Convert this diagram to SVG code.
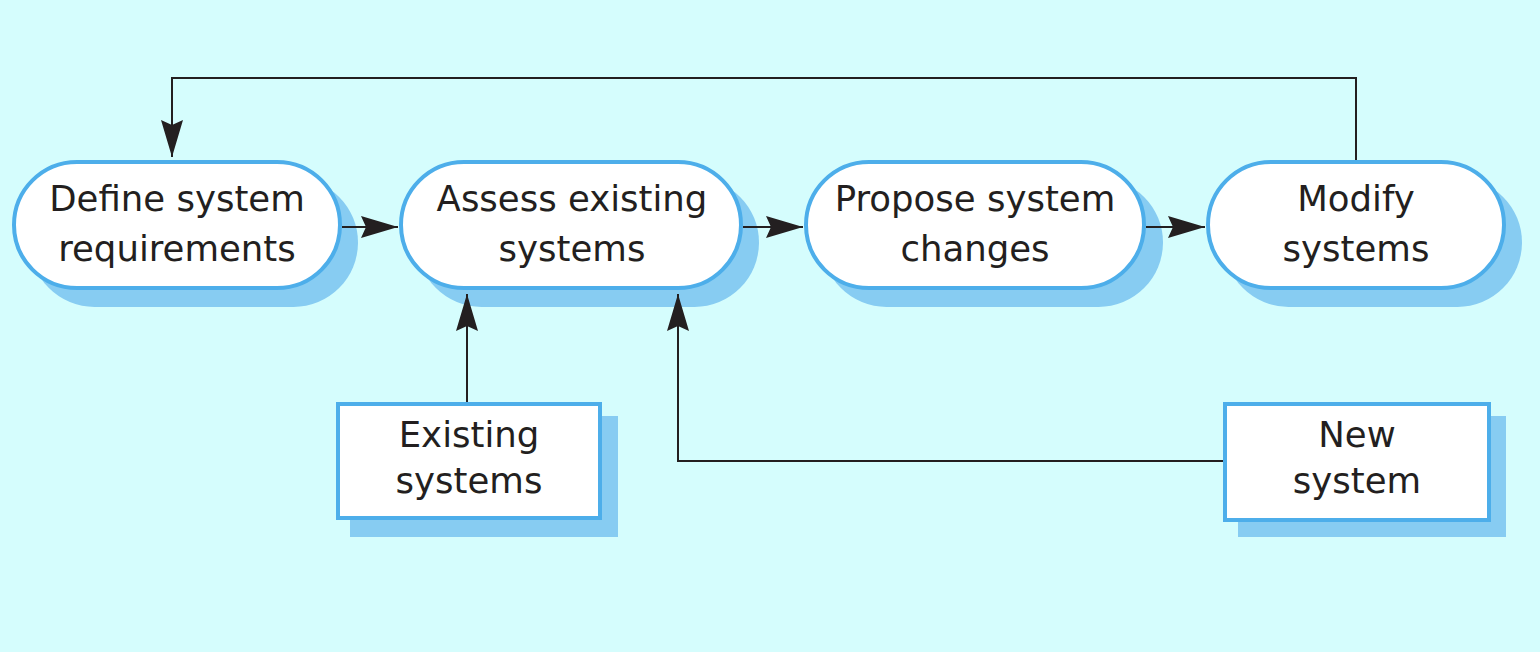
<svg xmlns="http://www.w3.org/2000/svg" width="1540" height="652" viewBox="0 0 1540 652">
<defs>
<style>
.bg{fill:#d5fdfd}
.sh{fill:#87ccf2}
.nd{fill:#ffffff;stroke:#4daeea;stroke-width:4}
.tx{font-family:"DejaVu Sans","Open Sans",sans-serif;font-size:35.5px;fill:#231f20;text-anchor:middle}
.cn{fill:none;stroke:#231f20;stroke-width:2}
</style>
<marker id="ah" markerUnits="userSpaceOnUse" markerWidth="40" markerHeight="24" refX="37" refY="11" orient="auto">
<path d="M0,0 L37,11 L0,22 L5,11 z" fill="#231f20"/>
</marker>
</defs>
<rect class="bg" x="0" y="0" width="1540" height="652"/>
<g id="define">
<rect class="sh" x="30" y="178" width="328" height="129" rx="64.5"/>
<rect class="nd" x="14" y="162" width="326" height="126" rx="63"/>
<text class="tx" x="177" y="211">Define system</text>
<text class="tx" x="177" y="261">requirements</text>
</g>
<g id="assess">
<rect class="sh" x="417" y="178" width="342" height="129" rx="64.5"/>
<rect class="nd" x="401" y="162" width="340" height="126" rx="63"/>
<text class="tx" x="572" y="211">Assess existing</text>
<text class="tx" x="572" y="261">systems</text>
</g>
<g id="propose">
<rect class="sh" x="822" y="178" width="341" height="129" rx="64.5"/>
<rect class="nd" x="806" y="162" width="338" height="126" rx="63"/>
<text class="tx" x="975" y="211">Propose system</text>
<text class="tx" x="975" y="261">changes</text>
</g>
<g id="modify">
<rect class="sh" x="1224" y="178" width="298" height="129" rx="64.5"/>
<rect class="nd" x="1208" y="162" width="296" height="126" rx="63"/>
<text class="tx" x="1356" y="211">Modify</text>
<text class="tx" x="1356" y="261">systems</text>
</g>
<g id="existing">
<rect class="sh" x="350" y="416" width="268" height="121"/>
<rect class="nd" x="338" y="404" width="262" height="114"/>
<text class="tx" x="469" y="447">Existing</text>
<text class="tx" x="469" y="493">systems</text>
</g>
<g id="newsystem">
<rect class="sh" x="1238" y="416" width="268" height="121"/>
<rect class="nd" x="1225" y="404" width="264" height="116"/>
<text class="tx" x="1357" y="447">New</text>
<text class="tx" x="1357" y="493">system</text>
</g>
<g id="connectors">
<path class="cn" d="M1356,160 V78 H172 V157" marker-end="url(#ah)"/>
<path class="cn" d="M342,227 H398" marker-end="url(#ah)"/>
<path class="cn" d="M743,227 H803" marker-end="url(#ah)"/>
<path class="cn" d="M1146,227 H1205" marker-end="url(#ah)"/>
<path class="cn" d="M467,402 V294" marker-end="url(#ah)"/>
<path class="cn" d="M1223,461 H678 V294" marker-end="url(#ah)"/>
</g>
</svg>
